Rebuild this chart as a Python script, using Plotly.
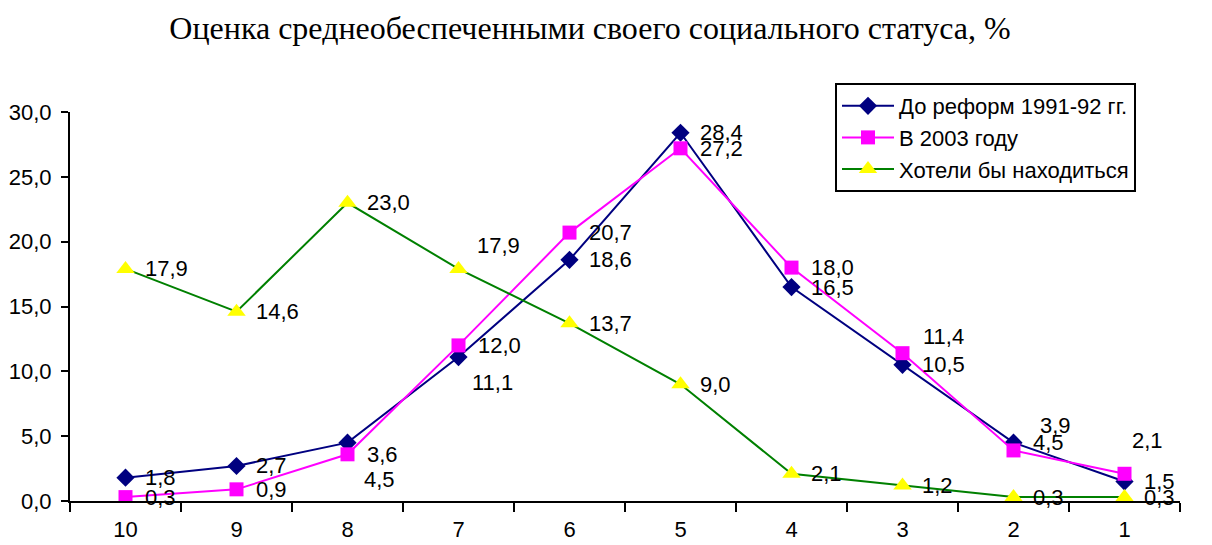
import plotly.graph_objects as go

categories = ["10", "9", "8", "7", "6", "5", "4", "3", "2", "1"]
before_reform = [1.8, 2.7, 4.5, 11.1, 18.6, 28.4, 16.5, 10.5, 4.5, 1.5]
in_2003 = [0.3, 0.9, 3.6, 12.0, 20.7, 27.2, 18.0, 11.4, 3.9, 2.1]
would_like = [17.9, 14.6, 23.0, 17.9, 13.7, 9.0, 2.1, 1.2, 0.3, 0.3]
y_ticks = [0, 5, 10, 15, 20, 25, 30]

names = ["До реформ 1991-92 гг.", "В 2003 году", "Хотели бы находиться"]
title_text = "Оценка среднеобеспеченными своего социального статуса, %"

# label offsets (px) per point: (xshift, yshift)
D = (17, 0)
off_before = [D, D, (14, -37), (11, -25), D, D, D, D, D, D]
off_2003 = [D, D, D, D, D, D, D, (18, 17), (24, 25), (5, 33)]
off_like = [D, D, D, (16, 23), D, D, D, D, D, D]

series = [
    (before_reform, names[0], "#000080", "#000080", "diamond", 14, off_before),
    (in_2003, names[1], "#FF00FF", "#FF00FF", "square", 14, off_2003),
    (would_like, names[2], "#008000", "#FFFF00", "triangle-up", 16, off_like),
]

FS = 22
W, H = 1204, 537
L, R, T, B = 62, 32, 104, 44
fig = go.Figure()
annotations = []
for vals, name, lc, mc, sym, ms, offs in series:
    fig.add_trace(go.Scatter(
        x=categories, y=vals, name=name, mode="lines+markers",
        line=dict(color=lc, width=2),
        marker=dict(symbol=sym, size=ms, color=mc, line=dict(width=0)),
    ))
    for i, (v, (dx, dy)) in enumerate(zip(vals, offs)):
        annotations.append(dict(
            x=i, y=v, xref="x", yref="y", text=f"{v:.1f}".replace(".", ","),
            showarrow=False, xanchor="left", yanchor="middle",
            xshift=dx, yshift=dy,
            font=dict(family="Liberation Sans", size=FS, color="black"),
        ))

pw = W - L - R
ph = H - T - B
fig.update_layout(
    width=W, height=H,
    margin=dict(l=L, r=R, t=T, b=B, autoexpand=False),
    paper_bgcolor="white", plot_bgcolor="white",
    separators=", ",
    font=dict(family="Liberation Sans", size=FS, color="black"),
    title=dict(text=title_text, x=(590 - 8) / W, xref="container", xanchor="center",
               y=1 - 20 / H, yanchor="middle",
               font=dict(family="Liberation Serif", size=32, color="black")),
    showlegend=True,
    legend=dict(x=(835 - 8 - L) / pw, y=((H - B) - (83 - 8)) / ph,
                xanchor="left", yanchor="top",
                bordercolor="black", borderwidth=2, bgcolor="white",
                font=dict(family="Liberation Sans", size=FS, color="black"),
                itemwidth=52, tracegroupgap=0),
    annotations=annotations,
)
fig.update_xaxes(type="category", categoryorder="array", categoryarray=categories,
                 range=[-0.5, len(categories) - 0.5], automargin=False,
                 showline=True, linecolor="black", linewidth=2,
                 ticks="outside", tickson="boundaries", ticklen=9, tickwidth=2,
                 tickcolor="black", showgrid=False, zeroline=False,
                 ticklabelstandoff=8,
                 tickfont=dict(family="Liberation Sans", size=FS))
fig.update_yaxes(range=[0, 30], tickvals=y_ticks, tickformat=".1f", automargin=False,
                 showline=True, linecolor="black", linewidth=2,
                 ticks="outside", ticklen=7, tickwidth=2, tickcolor="black",
                 showgrid=False, zeroline=False, ticklabelstandoff=5,
                 tickfont=dict(family="Liberation Sans", size=FS))

fig.write_html("out.html")
